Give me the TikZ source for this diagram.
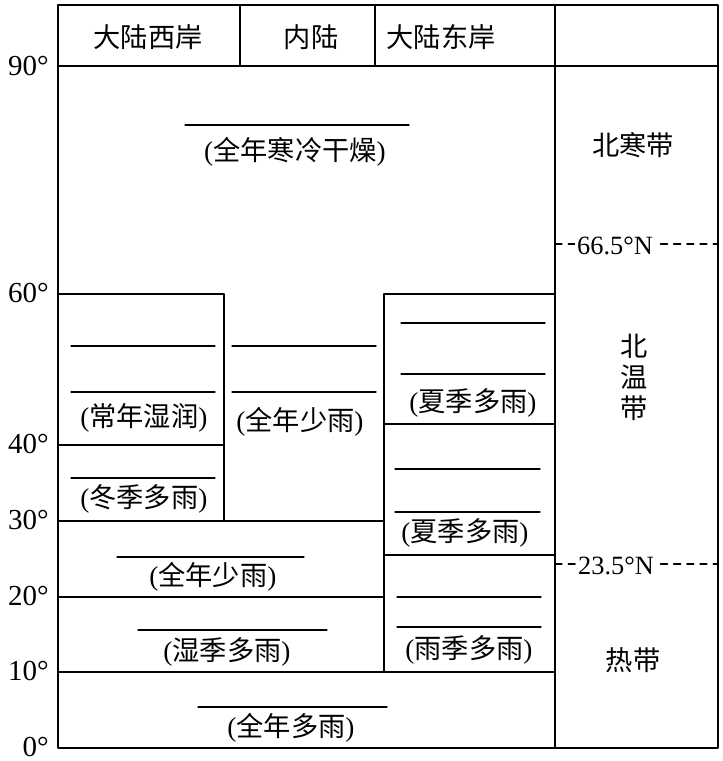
\documentclass[tikz,border=0pt]{standalone}
\usepackage{fontspec}
\setmainfont{Liberation Serif}
\newfontfamily\cjkfont{Noto Sans CJK SC}
\newcommand{\zh}[1]{{\cjkfont #1}}
\begin{document}
\begin{tikzpicture}[
    x=0.02cm, y=-0.02cm,
    line cap=round,
    line join=round,
    frame/.style={draw=black, line width=0.75pt},
    blank/.style={draw=black, line width=0.75pt},
    tropic/.style={draw=black, line width=0.6pt, dash pattern=on 4pt off 3.5pt},
    cell/.style={inner sep=0pt, font=\fontsize{15.5}{18}\selectfont},
    deg/.style={anchor=east, inner sep=0pt, font=\fontsize{16.5}{18}\selectfont},
    latlabel/.style={fill=white, inner sep=1pt, font=\fontsize{15}{18}\selectfont}
]
\useasboundingbox (0,0) rectangle (723,761);

% outer frame and header
\draw[frame] (58,5) rectangle (718,748);
\draw[frame] (58,66) -- (718,66);
\draw[frame] (240,5) -- (240,66);
\draw[frame] (375,5) -- (375,66);
\draw[frame] (555,5) -- (555,748);

% climate blocks
\draw[frame] (58,294) -- (224,294) -- (224,521);
\draw[frame] (58,445) -- (224,445);
\draw[frame] (58,521) -- (384,521);
\draw[frame] (58,597) -- (384,597);
\draw[frame] (555,294) -- (384,294) -- (384,672);
\draw[frame] (384,424) -- (555,424);
\draw[frame] (384,555) -- (555,555);
\draw[frame] (58,672) -- (555,672);

% blanks
\draw[blank] (185,125) -- (409,125);
\draw[blank] (71,346) -- (215,346);
\draw[blank] (71,392) -- (215,392);
\draw[blank] (232,346) -- (376,346);
\draw[blank] (232,392) -- (376,392);
\draw[blank] (71,478) -- (215,478);
\draw[blank] (401,323) -- (545,323);
\draw[blank] (401,374) -- (545,374);
\draw[blank] (395,469) -- (540,469);
\draw[blank] (395,512) -- (540,512);
\draw[blank] (117,557) -- (304,557);
\draw[blank] (397,597) -- (541,597);
\draw[blank] (397,627) -- (541,627);
\draw[blank] (138,630) -- (327,630);
\draw[blank] (198,707) -- (387,707);

% header texts
\node[cell] (west)  at (148,37) {\zh{大陆西岸}};
\node[cell] (inner) at (311,37) {\zh{内陆}};
\node[cell] (east)  at (441,37) {\zh{大陆东岸}};

% climate texts
\node[cell] (polar)     at (295,152) {(\zh{全年寒冷干燥})};
\node[cell] (wetWest)   at (144,418) {(\zh{常年湿润})};
\node[cell] (dryInner)  at (300,422) {(\zh{全年少雨})};
\node[cell] (winterWet) at (144,499) {(\zh{冬季多雨})};
\node[cell] (summerA)   at (473,403) {(\zh{夏季多雨})};
\node[cell] (summerB)   at (465,533) {(\zh{夏季多雨})};
\node[cell] (dryTrop)   at (213,577) {(\zh{全年少雨})};
\node[cell] (wetSeason) at (227,652) {(\zh{湿季多雨})};
\node[cell] (rainSeason) at (469,650) {(\zh{雨季多雨})};
\node[cell] (equator)   at (291,728) {(\zh{全年多雨})};

% zones
\node[cell] (frigid) at (633,145) {\zh{北寒带}};
\node[cell, align=center, font=\fontsize{15.5}{17.6}\selectfont] (temperate) at (634,377) {\zh{北}\\\zh{温}\\\zh{带}};
\node[cell] (torrid) at (633,660) {\zh{热带}};

% latitude lines
\draw[tropic] (555,244) -- (718,244);
\node[latlabel] (arctic) at (615,246) {66.5°N};
\draw[tropic] (555,564) -- (718,564);
\node[latlabel] (cancer) at (616,566) {23.5°N};

% degree labels
\foreach \d in {0,10,20,30,40,60,90}
  \node[deg] (lat\d) at (49,{747-7.567*\d}) {\d°};
\end{tikzpicture}
\end{document}
